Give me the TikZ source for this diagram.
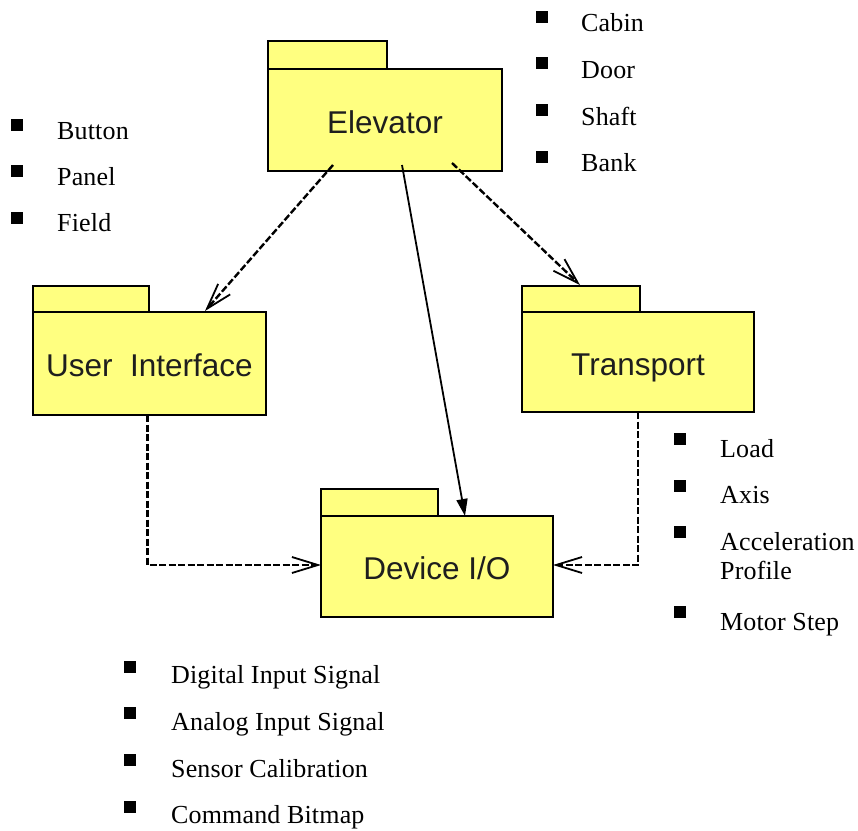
\documentclass[tikz,border=0pt]{standalone}
\usepackage{fontspec}
\usetikzlibrary{arrows.meta}
\newfontfamily\labelfont{Liberation Sans}
\newfontfamily\itemfont{Liberation Serif}[LetterSpace=0.6]
\definecolor{pkgfill}{RGB}{255,255,128}
\definecolor{pkgtext}{RGB}{30,30,30}
\tikzset{
  pkgbody/.style={draw=black, fill=pkgfill, line width=2.4pt, inner sep=0pt,
    outer sep=0pt, anchor=north west, font=\labelfont\fontsize{31.5}{34}\selectfont,
    text=pkgtext, text height=26pt, text depth=0pt},
  pkgtab/.style={draw=black, fill=pkgfill, line width=2.4pt, inner sep=0pt,
    outer sep=0pt, anchor=north west},
  bulletsq/.style={fill=black, inner sep=0pt, minimum width=12pt, minimum height=12pt},
  itemtext/.style={anchor=base west, inner sep=0pt, font=\itemfont\fontsize{26}{28}\selectfont},
  dep/.style={line width=2.4pt, dash pattern=on 7pt off 2.5pt,
    -{Straight Barb[length=26pt,width=16pt,line width=1.8pt]}},
  uses/.style={line width=1.8pt, -{Triangle[length=17pt,width=11pt]}}
}
\begin{document}
\begin{tikzpicture}[x=1pt,y=-1pt]
\useasboundingbox (0,0) rectangle (858,830);

% packages: tab first, then body on top of its lower edge
\node[pkgtab, minimum width=119pt, minimum height=28pt] (elevtab) at (268,41) {};
\node[pkgbody, minimum width=234pt, minimum height=102pt] (elev) at (268,69) {Elevator};

\node[pkgtab, minimum width=116pt, minimum height=26pt] (uitab) at (33,286) {};
\node[pkgbody, minimum width=233pt, minimum height=103pt] (ui) at (33,312) {User\ \ Interface};

\node[pkgtab, minimum width=118pt, minimum height=26pt] (transtab) at (522,286) {};
\node[pkgbody, minimum width=232pt, minimum height=100pt] (trans) at (522,312) {Transport};

\node[pkgtab, minimum width=117pt, minimum height=27pt] (devtab) at (321,489) {};
\node[pkgbody, minimum width=232pt, minimum height=101pt] (dev) at (321,516) {Device I/O};

% dependencies
\draw[dep] ([xshift=65pt,yshift=6pt]elev.south west) -- ([xshift=172pt,yshift=1pt]ui.north west);
\draw[dep] ([xshift=184pt,yshift=8pt]elev.south west) -- ([xshift=58pt,yshift=1pt]transtab.north west);
\draw[uses] ([xshift=134pt,yshift=6pt]elev.south west) -- ([xshift=144pt]dev.north west);
\draw[dep] ([xshift=-2pt]ui.south) |- ([yshift=1.5pt]dev.west);
\draw[dep] (trans.south) |- ([yshift=1.5pt]dev.east);

% Elevator contents
\node[bulletsq] (sqcabin) at (542,17) {};
\node[itemtext] (cabin) at (581,31) {Cabin};
\node[bulletsq] (sqdoor) at (542,63) {};
\node[itemtext] (door) at (581,78) {Door};
\node[bulletsq] (sqshaft) at (542,110) {};
\node[itemtext] (shaft) at (581,125) {Shaft};
\node[bulletsq] (sqbank) at (542,157) {};
\node[itemtext] (bank) at (581,171) {Bank};

% User Interface contents
\node[bulletsq] (sqbutton) at (17,125) {};
\node[itemtext] (button) at (57,139) {Button};
\node[bulletsq] (sqpanel) at (17,171) {};
\node[itemtext] (panel) at (57,185) {Panel};
\node[bulletsq] (sqfield) at (17,218) {};
\node[itemtext] (field) at (57,231) {Field};

% Transport contents
\node[bulletsq] (sqload) at (680,439) {};
\node[itemtext] (load) at (720,457) {Load};
\node[bulletsq] (sqaxis) at (680,486) {};
\node[itemtext] (axis) at (720,503) {Axis};
\node[bulletsq] (sqaccel) at (680,532) {};
\node[itemtext] (accel) at (720,550) {Acceleration};
\node[itemtext] (profile) at (720,579) {Profile};
\node[bulletsq] (sqmotor) at (680,612) {};
\node[itemtext] (motor) at (720,630) {Motor Step};

% Device I/O contents
\node[bulletsq] (sqdigital) at (130,667) {};
\node[itemtext] (digital) at (171,683) {Digital Input Signal};
\node[bulletsq] (sqanalog) at (130,713) {};
\node[itemtext] (analog) at (171,730) {Analog Input Signal};
\node[bulletsq] (sqsensor) at (130,760) {};
\node[itemtext] (sensor) at (171,777) {Sensor Calibration};
\node[bulletsq] (sqcommand) at (130,807) {};
\node[itemtext] (command) at (171,823) {Command Bitmap};
\end{tikzpicture}
\end{document}
